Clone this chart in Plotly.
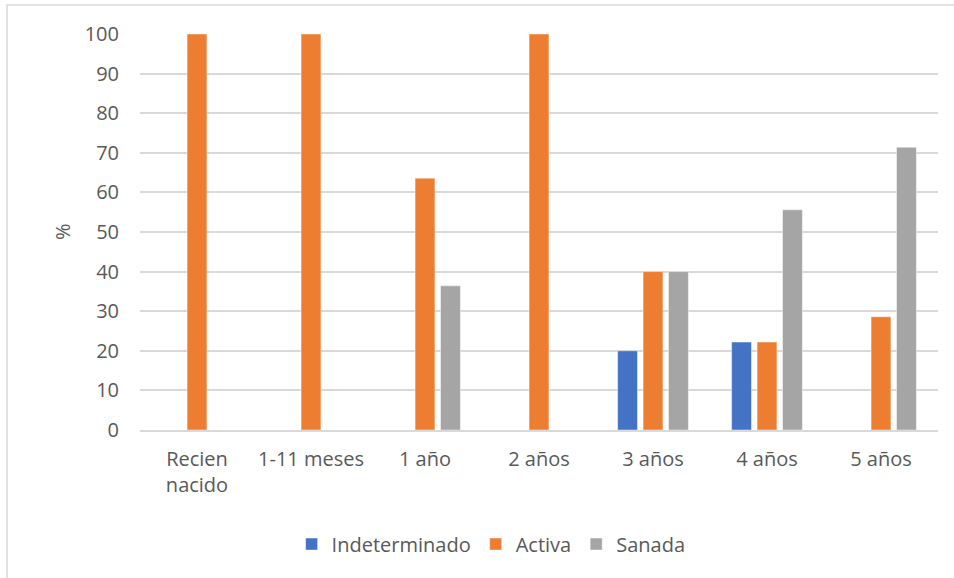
import plotly.graph_objects as go

# Age groups and percentage of each lesion status
categorias = ["Recien<br>nacido", "1-11 meses", "1 año", "2 años", "3 años", "4 años", "5 años"]
indeterminado = [0, 0, 0, 0, 20.0, 22.2, 0]
activa = [100, 100, 63.6, 100, 40.0, 22.2, 28.6]
sanada = [0, 0, 36.4, 0, 40.0, 55.6, 71.4]
y_ticks = list(range(0, 101, 10))

FONT = "'Open Sans', Lato, sans-serif"
TXT = "#595959"
FS = 20

fig = go.Figure()
series = [
    ("Indeterminado", indeterminado, "#4472C4"),
    ("Activa", activa, "#ED7D31"),
    ("Sanada", sanada, "#A5A5A5"),
]
for name, vals, col in series:
    fig.add_trace(go.Bar(
        name=name, x=categorias, y=vals,
        marker=dict(color=col, line=dict(color="rgba(255,255,255,0.45)", width=1)),
    ))

# Light frame around the chart area
fig.add_shape(type="rect", xref="paper", yref="paper",
              x0=-0.1667, x1=1.2, y0=-0.5, y1=1.0732,
              line=dict(color="#d9d9d9", width=1.5), fillcolor="rgba(0,0,0,0)", layer="below")

fig.add_annotation(text="%", xref="paper", yref="paper", x=-0.0977, y=0.5,
                   xanchor="center", yanchor="middle",
                   textangle=-90, showarrow=False,
                   font=dict(family=FONT, size=FS, color=TXT))

fig.update_layout(
    width=954, height=578,
    margin=dict(l=140, r=16, t=34, b=148),
    paper_bgcolor="white", plot_bgcolor="white",
    barmode="group", bargap=0.33, bargroupgap=0.22,
    font=dict(family=FONT, size=FS, color=TXT),
    showlegend=True,
    legend=dict(orientation="h", x=0.44, xanchor="center", y=-0.288, yanchor="middle",
                font=dict(family=FONT, size=FS, color=TXT), itemwidth=30,
                traceorder="normal"),
    xaxis=dict(showgrid=False, showline=True, linecolor="#d9d9d9", linewidth=1.5,
               ticks="", ticklabelstandoff=10,
               tickfont=dict(family=FONT, size=FS, color=TXT)),
    yaxis=dict(range=[0, 100], tickvals=y_ticks, showgrid=True, gridcolor="#d9d9d9",
               gridwidth=1.5, zeroline=False, showline=False, ticks="",
               ticklabelstandoff=20,
               tickfont=dict(family=FONT, size=FS, color=TXT)),
)

fig.write_html("out.html")
